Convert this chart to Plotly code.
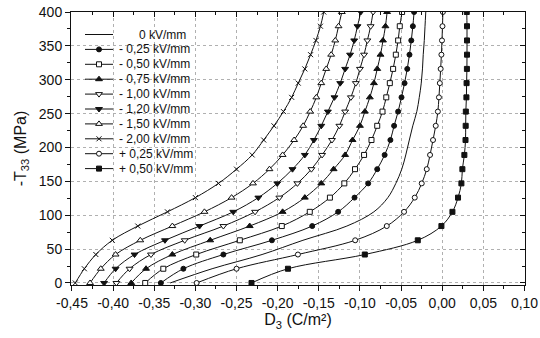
import plotly.graph_objects as go

# ---------------- data ----------------
STRESS = [0, 21, 42, 63, 84, 105, 126, 147, 168, 189, 211, 232, 253, 274, 295, 316, 337, 358, 379, 400]

D_0 = [-0.3307, -0.2797, -0.2190, -0.1693, -0.1159, -0.0831, -0.0661, -0.0564, -0.0492, -0.0443,
       -0.0400, -0.0358, -0.0309, -0.0279, -0.0255, -0.0240, -0.0231, -0.0218, -0.0209, -0.0200]
D_M025 = [-0.342, -0.3146, -0.266, -0.207, -0.158, -0.1265, -0.1066, -0.090, -0.079, -0.070,
          -0.063, -0.0585, -0.0536, -0.0495, -0.0458, -0.0425, -0.0398, -0.0376, -0.0357, -0.0342]
D_M050 = [-0.361, -0.339, -0.299, -0.246, -0.195, -0.161, -0.1365, -0.119, -0.106, -0.095,
          -0.086, -0.079, -0.0726, -0.068, -0.0637, -0.0597, -0.0564, -0.0536, -0.0516, -0.0488]
D_M075 = [-0.378, -0.360, -0.328, -0.282, -0.234, -0.194, -0.167, -0.147, -0.132, -0.118,
          -0.109, -0.100, -0.094, -0.088, -0.083, -0.079, -0.075, -0.072, -0.069, -0.067]
D_M100 = [-0.396, -0.380, -0.354, -0.313, -0.266, -0.2275, -0.198, -0.176, -0.159, -0.146,
          -0.134, -0.125, -0.118, -0.111, -0.105, -0.100, -0.095, -0.091, -0.087, -0.084]
D_M120 = [-0.411, -0.397, -0.374, -0.337, -0.295, -0.254, -0.2235, -0.2005, -0.182, -0.167,
          -0.156, -0.147, -0.139, -0.131, -0.124, -0.118, -0.112, -0.107, -0.103, -0.099]
D_M150 = [-0.428, -0.415, -0.397, -0.367, -0.328, -0.289, -0.256, -0.230, -0.210, -0.194,
          -0.180, -0.169, -0.1605, -0.153, -0.147, -0.141, -0.135, -0.130, -0.126, -0.122]
D_M200 = [-0.446, -0.435, -0.421, -0.401, -0.370, -0.334, -0.300, -0.272, -0.250, -0.231,
          -0.217, -0.2045, -0.193, -0.183, -0.175, -0.167, -0.160, -0.1535, -0.148, -0.144]
D_P025 = [-0.2985, -0.250, -0.1754, -0.1058, -0.0674, -0.0464, -0.0334, -0.0249, -0.0188, -0.0148,
          -0.0112, -0.0079, -0.0053, -0.0040, -0.0029, -0.0019, -0.0010, -0.0003, 0.0003, 0.0008]
D_P050 = [-0.2318, -0.1875, -0.0941, -0.0297, -0.0010, 0.0124, 0.0192, 0.0233, 0.0245, 0.0269,
          0.0283, 0.0285, 0.0287, 0.0294, 0.0296, 0.0300, 0.0301, 0.0301, 0.0301, 0.0298]

SERIES_NAMES = ["0 kV/mm", "- 0,25 kV/mm", "- 0,50 kV/mm", "- 0,75 kV/mm", "- 1,00 kV/mm",
                "- 1,20 kV/mm", "- 1,50 kV/mm", "- 2,00 kV/mm", "+ 0,25 kV/mm", "+ 0,50 kV/mm"]
SERIES_VALUES = [D_0, D_M025, D_M050, D_M075, D_M100, D_M120, D_M150, D_M200, D_P025, D_P050]

X_TICKS = [-0.45, -0.40, -0.35, -0.30, -0.25, -0.20, -0.15, -0.10, -0.05, 0.00, 0.05, 0.10]
X_TICK_LABELS = ["-0,45", "-0,40", "-0,35", "-0,30", "-0,25", "-0,20", "-0,15", "-0,10",
                 "-0,05", "0,00", "0,05", "0,10"]
Y_TICKS = [0, 50, 100, 150, 200, 250, 300, 350, 400]
Y_TICK_LABELS = ["0", "50", "100", "150", "200", "250", "300", "350", "400"]

# ---------------- styles ----------------
FONT = "Liberation Sans, Arial, sans-serif"
BLACK = "#111111"
# (symbol, fill, size) per series; None = no markers
STYLES = [
    None,
    ("circle", BLACK, 5),
    ("square", "white", 5),
    ("triangle-up", BLACK, 6),
    ("triangle-down", "white", 6),
    ("triangle-down", BLACK, 6),
    ("triangle-up", "white", 6),
    ("x-thin", BLACK, 5),
    ("circle", "white", 5),
    ("square", BLACK, 5),
]

XR = [-0.4512, 0.1006]
YR = [-3, 400]
ML, MR, MT, MB = 71, 15, 12, 53
W, H = 540, 338

fig = go.Figure()

for name, vals, st in zip(SERIES_NAMES, SERIES_VALUES, STYLES):
    if st is None:
        fig.add_trace(go.Scatter(x=vals, y=STRESS, mode="lines", name=name,
                                 line=dict(color=BLACK, width=1, shape="spline"),
                                 showlegend=False))
    else:
        sym, fill, size = st
        fig.add_trace(go.Scatter(
            x=vals, y=STRESS, mode="lines+markers", name=name,
            line=dict(color=BLACK, width=1, shape="spline"),
            marker=dict(symbol=sym, size=size, color=fill,
                        line=dict(color=BLACK, width=1)),
            showlegend=False))

# ---------- hand-built legend (compact rows like the original) ----------
# helper axes map 1:1 to page pixels
LEG_TOP, LEG_STEP = 34.5, 14.9
LX0, LXM, LX1, LTX = 85, 99, 113, 117
for i, (name, st) in enumerate(zip(SERIES_NAMES, STYLES)):
    yy = LEG_TOP + LEG_STEP * i
    if st is None:
        fig.add_trace(go.Scatter(x=[LX0, LX1], y=[yy, yy], mode="lines",
                                 line=dict(color=BLACK, width=1),
                                 xaxis="x3", yaxis="y3", showlegend=False, hoverinfo="skip"))
        label = "\u00a0" * 6 + name
    else:
        sym, fill, size = st
        fig.add_trace(go.Scatter(x=[LX0, LXM, LX1], y=[yy, yy, yy], mode="lines+markers",
                                 line=dict(color=BLACK, width=1),
                                 marker=dict(symbol=sym, size=size, color=fill,
                                             opacity=[0, 1, 0],
                                             line=dict(color=BLACK, width=1)),
                                 xaxis="x3", yaxis="y3", showlegend=False, hoverinfo="skip"))
        label = name
    fig.add_annotation(x=LTX, y=yy, xref="x3", yref="y3", text=label, showarrow=False,
                       xanchor="left", yanchor="middle",
                       font=dict(family=FONT, size=12, color=BLACK))

# empty trace to activate mirrored tick axes
fig.add_trace(go.Scatter(x=[], y=[], xaxis="x2", yaxis="y2", showlegend=False))

grid = dict(showgrid=True, gridcolor="#b0b0b0", griddash="dot", gridwidth=1)

fig.update_layout(
    width=W, height=H,
    margin=dict(l=ML, r=MR, t=MT, b=MB, autoexpand=False),
    paper_bgcolor="white", plot_bgcolor="white",
    font=dict(family=FONT, size=14, color=BLACK),
    showlegend=False,
    xaxis=dict(range=XR, tickvals=X_TICKS, ticktext=X_TICK_LABELS, automargin=False,
               ticks="outside", ticklen=5, tickwidth=1, tickcolor=BLACK,
               minor=dict(tickvals=[v + 0.025 for v in X_TICKS[:-1]], ticks="outside",
                          ticklen=3, tickcolor=BLACK, showgrid=False),
               showline=True, linecolor=BLACK, linewidth=1, mirror=True,
               zeroline=False, tickfont=dict(size=14),
               title=dict(text="D<sub>3</sub> (C/m²)", font=dict(size=16), standoff=4),
               **grid),
    yaxis=dict(range=YR, tickvals=Y_TICKS, ticktext=Y_TICK_LABELS, automargin=False,
               ticks="outside", ticklen=5, tickwidth=1, tickcolor=BLACK,
               minor=dict(tickvals=[v + 25 for v in Y_TICKS[:-1]], ticks="outside",
                          ticklen=3, tickcolor=BLACK, showgrid=False),
               showline=True, linecolor=BLACK, linewidth=1, mirror=True,
               zeroline=False, tickfont=dict(size=14),
               title=dict(text="-T<sub>33</sub> (MPa)", font=dict(size=16), standoff=8),
               **grid),
    xaxis2=dict(overlaying="x", side="top", anchor="y", range=XR, automargin=False,
                tickvals=X_TICKS, ticks="inside", ticklen=5, tickcolor=BLACK,
                minor=dict(tickvals=[v + 0.025 for v in X_TICKS[:-1]], ticks="inside",
                           ticklen=3, tickcolor=BLACK),
                showticklabels=False, showgrid=False, zeroline=False, showline=False),
    yaxis2=dict(overlaying="y", side="right", anchor="x", range=YR, automargin=False,
                tickvals=Y_TICKS, ticks="inside", ticklen=5, tickcolor=BLACK,
                minor=dict(tickvals=[v + 25 for v in Y_TICKS[:-1]], ticks="inside",
                           ticklen=3, tickcolor=BLACK),
                showticklabels=False, showgrid=False, zeroline=False, showline=False),
    xaxis3=dict(overlaying="x", anchor="y3", range=[ML, W - MR], visible=False, automargin=False),
    yaxis3=dict(overlaying="y", anchor="x3", range=[H - MB, MT], visible=False, automargin=False),
)

# remove the browser's default 8px page margin so the figure sits at the window origin
fig.write_html("out.html", config={"displayModeBar": False},
               post_script="document.body.style.margin='0';document.body.style.padding='0';")
